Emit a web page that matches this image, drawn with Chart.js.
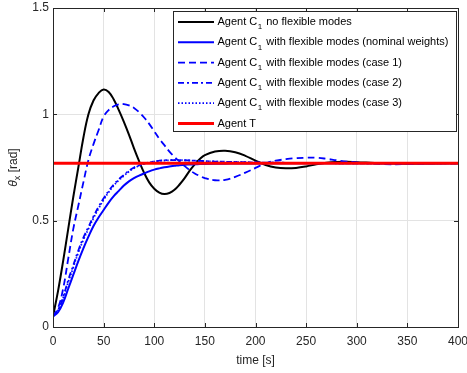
<!DOCTYPE html>
<html>
<head>
<meta charset="utf-8">
<script src="https://cdn.jsdelivr.net/npm/chart.js@4.4.0/dist/chart.umd.min.js"></script>
<style>
  body { margin: 0; background: #fff; }
  #wrap { width: 467px; height: 373px; }
</style>
</head>
<body>
<div id="wrap"><canvas id="chart" width="467" height="373"></canvas></div>
<script>
// time samples [s]
var times = [0, 5, 10, 15, 20, 25, 30, 35, 40, 45, 50, 55, 60, 65, 70, 75, 80, 85, 90, 95,
  100, 105, 110, 115, 120, 125, 130, 135, 140, 145, 150, 160, 170, 180, 190, 200, 210, 220,
  230, 240, 250, 260, 270, 280, 290, 300, 325, 350, 375, 400];

// theta_x [rad]
var noFlex = [0.05, 0.17, 0.31, 0.46, 0.61, 0.75, 0.89, 1.00, 1.065, 1.10, 1.117, 1.105, 1.07, 1.02, 0.965, 0.905, 0.84, 0.78, 0.725, 0.68,
  0.65, 0.632, 0.625, 0.63, 0.645, 0.67, 0.70, 0.735, 0.765, 0.79, 0.808, 0.825, 0.829, 0.822, 0.805, 0.782, 0.762, 0.75,
  0.746, 0.748, 0.755, 0.765, 0.772, 0.776, 0.777, 0.775, 0.77, 0.768, 0.769, 0.77];
var nominal = [0.05, 0.07, 0.115, 0.18, 0.245, 0.31, 0.37, 0.425, 0.475, 0.515, 0.55, 0.585, 0.615, 0.64, 0.665, 0.685, 0.70, 0.712, 0.722, 0.732,
  0.74, 0.746, 0.751, 0.755, 0.758, 0.761, 0.763, 0.764, 0.765, 0.766, 0.767, 0.768, 0.768, 0.769, 0.769, 0.769, 0.77, 0.77,
  0.77, 0.77, 0.77, 0.77, 0.77, 0.77, 0.77, 0.77, 0.77, 0.77, 0.77, 0.77];
var case1 = [0.05, 0.09, 0.18, 0.32, 0.46, 0.57, 0.68, 0.785, 0.86, 0.925, 0.99, 1.02, 1.038, 1.047, 1.048, 1.042, 1.03, 1.01, 0.985, 0.955,
  0.92, 0.885, 0.855, 0.825, 0.80, 0.778, 0.757, 0.738, 0.722, 0.71, 0.70, 0.69, 0.692, 0.706, 0.726, 0.748, 0.77, 0.782,
  0.789, 0.794, 0.796, 0.796, 0.791, 0.784, 0.778, 0.774, 0.766, 0.766, 0.769, 0.77];
var case2 = [0.05, 0.08, 0.14, 0.22, 0.29, 0.36, 0.42, 0.47, 0.52, 0.565, 0.605, 0.64, 0.67, 0.695, 0.715, 0.735, 0.75, 0.76, 0.768, 0.774,
  0.779, 0.782, 0.784, 0.785, 0.785, 0.785, 0.784, 0.783, 0.782, 0.781, 0.78, 0.778, 0.777, 0.776, 0.775, 0.774, 0.773, 0.773,
  0.772, 0.772, 0.771, 0.771, 0.771, 0.77, 0.77, 0.77, 0.77, 0.77, 0.77, 0.77];
var case3 = [0.05, 0.078, 0.135, 0.21, 0.28, 0.35, 0.41, 0.462, 0.512, 0.557, 0.598, 0.634, 0.665, 0.69, 0.711, 0.731, 0.747, 0.758, 0.767, 0.773,
  0.778, 0.781, 0.783, 0.784, 0.785, 0.785, 0.784, 0.783, 0.782, 0.781, 0.78, 0.778, 0.777, 0.776, 0.775, 0.774, 0.773, 0.773,
  0.772, 0.772, 0.771, 0.771, 0.771, 0.77, 0.77, 0.77, 0.77, 0.77, 0.77, 0.77];
var targetTimes = [0, 400];
var targetVals = [0.77, 0.77];

var seriesNames = [
  'Agent C\u2081 no flexible modes',
  'Agent C\u2081 with flexible modes (nominal weights)',
  'Agent C\u2081 with flexible modes (case 1)',
  'Agent C\u2081 with flexible modes (case 2)',
  'Agent C\u2081 with flexible modes (case 3)',
  'Agent T'
];
var xTicks = [0, 50, 100, 150, 200, 250, 300, 350, 400];
var yTicks = [0, 0.5, 1, 1.5];

var FONT = "'Liberation Sans', Arial, sans-serif";
var AXIS = '#262626';

function pts(xs, ys) {
  return xs.map(function (x, i) { return { x: x, y: ys[i] }; });
}

function line(label, xs, ys, color, width, dash, order) {
  return {
    label: label,
    data: pts(xs, ys),
    borderColor: color,
    borderWidth: width,
    borderDash: dash,
    pointRadius: 0,
    tension: 0.4,
    fill: false,
    order: order
  };
}

// box, inward ticks, legend and y title like the original figure
var decor = {
  id: 'decor',
  afterDraw: function (chart) {
    var ctx = chart.ctx, a = chart.chartArea;
    var xs = chart.scales.x, ys = chart.scales.y;
    ctx.save();
    ctx.strokeStyle = AXIS;
    ctx.lineWidth = 1;
    ctx.beginPath();
    xTicks.forEach(function (v) {
      var p = Math.round(xs.getPixelForValue(v)) + 0.5;
      ctx.moveTo(p, a.bottom); ctx.lineTo(p, a.bottom - 4);
      ctx.moveTo(p, a.top); ctx.lineTo(p, a.top + 4);
    });
    yTicks.forEach(function (v) {
      var p = Math.round(ys.getPixelForValue(v)) + 0.5;
      ctx.moveTo(a.left, p); ctx.lineTo(a.left + 4, p);
      ctx.moveTo(a.right, p); ctx.lineTo(a.right - 4, p);
    });
    ctx.stroke();
    ctx.strokeRect(Math.round(a.left) + 0.5, Math.round(a.top) + 0.5,
      Math.round(a.right - a.left), Math.round(a.bottom - a.top));

    // legend
    var lx = a.right - 285, ly = a.top + 3, lw = 283, lh = 120;
    ctx.fillStyle = '#fff';
    ctx.fillRect(lx, ly, lw, lh);
    ctx.strokeRect(Math.round(lx) + 0.5, Math.round(ly) + 0.5, lw, lh);
    chart.data.datasets.forEach(function (ds, i) {
      var y = ly + 11 + i * 20.3;
      ctx.save();
      ctx.strokeStyle = ds.borderColor;
      ctx.lineWidth = ds.borderWidth;
      ctx.setLineDash(ds.borderDash || []);
      ctx.beginPath();
      ctx.moveTo(lx + 5, y); ctx.lineTo(lx + 41, y);
      ctx.stroke();
      ctx.restore();
      ctx.fillStyle = '#000';
      ctx.textBaseline = 'middle';
      ctx.font = '11px ' + FONT;
      var tx = lx + 44.5;
      var lab = ds.label;
      if (lab.indexOf('Agent C\u2081') === 0) {
        ctx.fillText('Agent C', tx, y);
        tx += ctx.measureText('Agent C').width;
        ctx.font = '8px ' + FONT;
        ctx.fillText('1', tx + 0.5, y + 5);
        tx += ctx.measureText('1').width + 1.5;
        ctx.font = '11px ' + FONT;
        ctx.fillText(lab.slice(8), tx, y);
      } else {
        ctx.fillText(lab, tx, y);
      }
    });

    // y axis title: theta_x [rad]
    ctx.translate(14, (a.top + a.bottom) / 2);
    ctx.rotate(-Math.PI / 2);
    ctx.fillStyle = AXIS;
    ctx.textBaseline = 'middle';
    ctx.font = 'italic 12px ' + FONT;
    var w1 = ctx.measureText('\u03b8').width;
    ctx.font = '9px ' + FONT;
    var w2 = ctx.measureText('x').width;
    ctx.font = '12px ' + FONT;
    var w3 = ctx.measureText(' [rad]').width;
    var sx = -(w1 + w2 + w3) / 2;
    ctx.font = 'italic 12px ' + FONT;
    ctx.fillText('\u03b8', sx, 0);
    ctx.font = '9px ' + FONT;
    ctx.fillText('x', sx + w1, 4);
    ctx.font = '12px ' + FONT;
    ctx.fillText(' [rad]', sx + w1 + w2, 0);
    ctx.restore();
  }
};

Chart.defaults.font.family = FONT;
Chart.defaults.color = AXIS;

new Chart(document.getElementById('chart').getContext('2d'), {
  type: 'line',
  data: {
    datasets: [
      line(seriesNames[0], times, noFlex, '#000000', 2, [], 6),
      line(seriesNames[1], times, nominal, '#0000ff', 2, [], 5),
      line(seriesNames[2], times, case1, '#0000ff', 1.8, [7, 4], 4),
      line(seriesNames[3], times, case2, '#0000ff', 1.8, [6, 3, 2, 3], 3),
      line(seriesNames[4], times, case3, '#0000ff', 1.8, [1.5, 2], 2),
      line(seriesNames[5], targetTimes, targetVals, '#ff0000', 3, [], 1)
    ]
  },
  options: {
    responsive: false,
    animation: false,
    layout: { padding: { top: 8, right: 9, left: 0, bottom: 0 } },
    plugins: { legend: { display: false }, tooltip: { enabled: false } },
    scales: {
      x: {
        type: 'linear',
        min: 0, max: 400,
        afterBuildTicks: function (s) { s.ticks = xTicks.map(function (v) { return { value: v }; }); },
        afterFit: function (s) { s.height = 46; s.paddingLeft = 0; s.paddingRight = 0; },
        ticks: { font: { size: 12 }, color: AXIS, padding: 7, maxRotation: 0,
          callback: function (v) { return String(v); } },
        grid: { color: '#e3e3e3', drawTicks: false },
        border: { display: false },
        title: { display: true, text: 'time [s]', font: { size: 12 }, color: AXIS, padding: { top: 4, bottom: 5 } }
      },
      y: {
        min: 0, max: 1.5,
        afterBuildTicks: function (s) { s.ticks = yTicks.map(function (v) { return { value: v }; }); },
        afterFit: function (s) { s.width = 53; s.paddingTop = 0; s.paddingBottom = 0; },
        ticks: { font: { size: 12 }, color: AXIS, padding: 4,
          callback: function (v) { return String(v); } },
        grid: { color: '#e3e3e3', drawTicks: false },
        border: { display: false }
      }
    }
  },
  plugins: [decor]
});
</script>
</body>
</html>
